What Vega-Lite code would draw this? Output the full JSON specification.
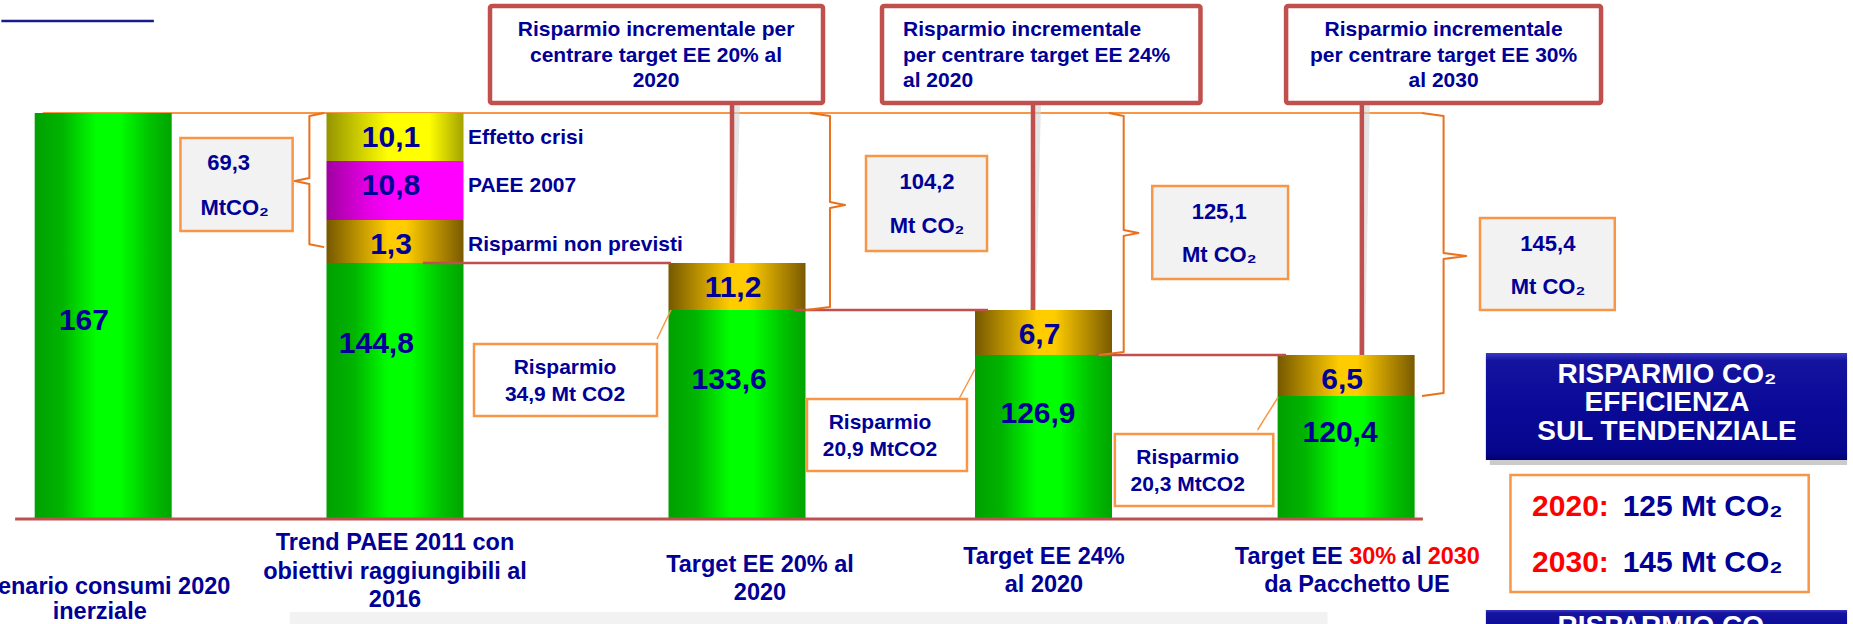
{
  "$schema": "https://vega.github.io/schema/vega-lite/v6.json",
  "width": 1853,
  "height": 624,
  "padding": 0,
  "autosize": {"type": "none"},
  "background": "white",
  "config": {
    "view": {"stroke": null},
    "text": {"font": "Liberation Sans", "fontWeight": "bold"},
    "locale": {"number": {"decimal": ",", "thousands": ".", "grouping": [3], "currency": ["", " €"]}}
  },
  "datasets": {
    "consumi": [
      {"slot": 1, "scenario": "Scenario consumi 2020 inerziale", "component": "Consumo", "kind": "base", "level": 1, "amount": 167},
      {"slot": 2, "scenario": "Trend PAEE 2011", "component": "Consumo", "kind": "base", "level": 1, "amount": 144.8},
      {"slot": 2, "scenario": "Trend PAEE 2011", "component": "Risparmi non previsti", "kind": "saving", "level": 2, "amount": 1.3},
      {"slot": 2, "scenario": "Trend PAEE 2011", "component": "PAEE 2007", "kind": "plan", "level": 3, "amount": 10.8},
      {"slot": 2, "scenario": "Trend PAEE 2011", "component": "Effetto crisi", "kind": "crisis", "level": 4, "amount": 10.1},
      {"slot": 3, "scenario": "Target EE 20% al 2020", "component": "Consumo", "kind": "base", "level": 1, "amount": 133.6},
      {"slot": 3, "scenario": "Target EE 20% al 2020", "component": "Risparmio incrementale", "kind": "saving", "level": 2, "amount": 11.2},
      {"slot": 4, "scenario": "Target EE 24% al 2020", "component": "Consumo", "kind": "base", "level": 1, "amount": 126.9},
      {"slot": 4, "scenario": "Target EE 24% al 2020", "component": "Risparmio incrementale", "kind": "saving", "level": 2, "amount": 6.7},
      {"slot": 5, "scenario": "Target EE 30% al 2030", "component": "Consumo", "kind": "base", "level": 1, "amount": 120.4},
      {"slot": 5, "scenario": "Target EE 30% al 2030", "component": "Risparmio incrementale", "kind": "saving", "level": 2, "amount": 6.5}
    ],
    "totali": [
      {"x": 0.934, "y": 131.96, "amount": 167},
      {"x": 1.936, "y": 128.54, "amount": 144.8},
      {"x": 2.977, "y": 122.94, "amount": 133.6},
      {"x": 3.982, "y": 102.78, "amount": 126.9},
      {"x": 4.98, "y": 84.18, "amount": 120.4}
    ],
    "riquadri": [
      {"role": "band", "x": 1.6391, "x2": 4.9382, "y": -91.03, "y2": -130},
      {"role": "shadow", "x": 5.4748, "x2": 6.6553, "y": 126.42, "y2": 52.86},
      {"role": "panel", "x": 5.4618, "x2": 6.6553, "y": 127.2, "y2": 57.75},
      {"role": "panel", "x": 5.4618, "x2": 6.6553, "y": -89.08, "y2": -130},
      {"role": "callout", "x": 2.2778, "x2": 3.2806, "y": 188.78, "y2": 169.04},
      {"role": "callout", "x": 3.4731, "x2": 4.5187, "y": 188.78, "y2": 169.04},
      {"role": "callout", "x": 4.8016, "x2": 5.8423, "y": 188.78, "y2": 169.04},
      {"role": "total", "x": 1.2648, "x2": 1.6492, "y": 161.74, "y2": 145.767},
      {"role": "total", "x": 3.4209, "x2": 3.8157, "y": 157.95, "y2": 145.16},
      {"role": "total", "x": 4.3593, "x2": 4.8081, "y": 152.32, "y2": 140.99},
      {"role": "total", "x": 5.4423, "x2": 5.8878, "y": 146.47, "y2": 133.6},
      {"role": "saving", "x": 2.231, "x2": 2.7661, "y": 128.54, "y2": 100.82},
      {"role": "saving", "x": 3.2284, "x2": 3.7504, "y": 117.46, "y2": 46.99},
      {"role": "saving", "x": 4.2358, "x2": 4.7593, "y": 83.2, "y2": 12.73},
      {"role": "summary", "x": 5.5431, "x2": 6.5285, "y": 43.07, "y2": -71.46}
    ],
    "tratti": [
      {"role": "mark", "x": 0.651, "x2": 1.1737, "y": 185.73, "y2": 185.73},
      {"role": "guide", "x": 0.7926, "x2": 5.2504, "y": 167, "y2": 167},
      {"role": "base", "x": 0.6981, "x2": 5.2537, "y": 0, "y2": 0},
      {"role": "step", "x": 2.0819, "x2": 2.807, "y": 144.8, "y2": 144.8},
      {"role": "step", "x": 3.186, "x2": 3.819, "y": 133.6, "y2": 133.6},
      {"role": "step", "x": 4.174, "x2": 4.8016, "y": 126.9, "y2": 126.9},
      {"role": "stem", "x": 2.9854, "x2": 2.9854, "y": 168.83, "y2": 144.8},
      {"role": "stem", "x": 3.9657, "x2": 3.9657, "y": 168.83, "y2": 133.6},
      {"role": "stem", "x": 5.052, "x2": 5.052, "y": 168.83, "y2": 126.9},
      {"role": "leader", "x": 2.7661, "x2": 2.807, "y": 129.28, "y2": 133.6},
      {"role": "leader", "x": 3.7243, "x2": 3.7765, "y": 117.46, "y2": 124.68},
      {"role": "leader", "x": 4.7073, "x2": 4.7756, "y": 87.12, "y2": 119.42}
    ],
    "graffe": [
      {"brace": "a", "seq": 1, "x": 1.7572, "y": 167},
      {"brace": "a", "seq": 2, "x": 1.7066, "y": 166.37},
      {"brace": "a", "seq": 3, "x": 1.7066, "y": 153.79},
      {"brace": "a", "seq": 4, "x": 1.656, "y": 153.24},
      {"brace": "a", "seq": 5, "x": 1.7066, "y": 152.69},
      {"brace": "a", "seq": 6, "x": 1.7066, "y": 145.37},
      {"brace": "a", "seq": 7, "x": 1.7572, "y": 145.28},
      {"brace": "b", "seq": 1, "x": 3.2382, "y": 167},
      {"brace": "b", "seq": 2, "x": 3.3034, "y": 166.37},
      {"brace": "b", "seq": 3, "x": 3.3034, "y": 149.39},
      {"brace": "b", "seq": 4, "x": 3.3524, "y": 148.85},
      {"brace": "b", "seq": 5, "x": 3.3034, "y": 148.3},
      {"brace": "b", "seq": 6, "x": 3.3034, "y": 134.31},
      {"brace": "b", "seq": 7, "x": 3.2251, "y": 133.6},
      {"brace": "c", "seq": 1, "x": 4.2163, "y": 167},
      {"brace": "c", "seq": 2, "x": 4.265, "y": 166.37},
      {"brace": "c", "seq": 3, "x": 4.265, "y": 145.8},
      {"brace": "c", "seq": 4, "x": 4.3138, "y": 145.71},
      {"brace": "c", "seq": 5, "x": 4.265, "y": 145.62},
      {"brace": "c", "seq": 6, "x": 4.265, "y": 127.35},
      {"brace": "c", "seq": 7, "x": 4.1837, "y": 126.9},
      {"brace": "d", "seq": 1, "x": 5.2504, "y": 167},
      {"brace": "d", "seq": 2, "x": 5.322, "y": 166.37},
      {"brace": "d", "seq": 3, "x": 5.322, "y": 145.1},
      {"brace": "d", "seq": 4, "x": 5.3967, "y": 145.01},
      {"brace": "d", "seq": 5, "x": 5.322, "y": 144.92},
      {"brace": "d", "seq": 6, "x": 5.322, "y": 120.88},
      {"brace": "d", "seq": 7, "x": 5.2504, "y": 120.4}
    ],
    "testi": [
      {"role": "callout_c", "x": 2.7632, "y": 183.89, "text": ["Risparmio incrementale per", "centrare target  EE 20% al", "2020"]},
      {"role": "callout_c", "x": 5.322, "y": 183.89, "text": ["Risparmio incrementale", "per centrare target EE 30%", "al 2030"]},
      {"role": "callout_l", "x": 3.5416, "y": 183.89, "text": ["Risparmio incrementale", "per centrare target EE 24%", "al 2020"]},
      {"role": "total", "x": 1.43, "y": 156.53, "text": "69,3"},
      {"role": "total", "x": 1.4503, "y": 148.3, "text": "MtCO₂"},
      {"role": "total", "x": 3.6199, "y": 153.06, "text": "104,2"},
      {"role": "total", "x": 3.6199, "y": 145.92, "text": "Mt CO₂"},
      {"role": "total", "x": 4.5805, "y": 147.56, "text": "125,1"},
      {"role": "total", "x": 4.5805, "y": 145.04, "text": "Mt CO₂"},
      {"role": "total", "x": 5.6667, "y": 145.37, "text": "145,4"},
      {"role": "total", "x": 5.6667, "y": 139.08, "text": "Mt CO₂"},
      {"role": "saving", "x": 2.4971, "y": 124.84, "text": ["Risparmio", "34,9 Mt CO2"]},
      {"role": "saving", "x": 3.4666, "y": 93.97, "text": ["Risparmio", "20,9 MtCO2"]},
      {"role": "saving", "x": 4.4764, "y": 59.71, "text": ["Risparmio", "20,3 MtCO2"]},
      {"role": "caption", "tone": "normal", "x": 0.9882, "y": -66.56, "text": "Scenario consumi 2020"},
      {"role": "caption", "tone": "normal", "x": 0.9882, "y": -91.03, "text": "inerziale"},
      {"role": "caption", "tone": "normal", "x": 2, "y": -23.49, "text": "Trend PAEE 2011 con"},
      {"role": "caption", "tone": "normal", "x": 2, "y": -51.88, "text": "obiettivi raggiungibili al"},
      {"role": "caption", "tone": "normal", "x": 2, "y": -79.29, "text": "2016"},
      {"role": "caption", "tone": "normal", "x": 3.075, "y": -45.03, "text": "Target EE 20% al"},
      {"role": "caption", "tone": "normal", "x": 3.075, "y": -72.43, "text": "2020"},
      {"role": "caption", "tone": "normal", "x": 4.0016, "y": -37.2, "text": "Target EE 24%"},
      {"role": "caption", "tone": "normal", "x": 4.0016, "y": -64.6, "text": "al 2020"},
      {"role": "caption", "tone": "normal", "x": 5.0358, "y": -64.6, "text": "da Pacchetto UE"},
      {"role": "caption_l", "tone": "normal", "x": 4.6322, "y": -37.2, "text": "Target EE"},
      {"role": "caption_l", "tone": "highlight", "x": 5.0101, "y": -37.2, "text": "30%"},
      {"role": "caption_l", "tone": "normal", "x": 5.1841, "y": -37.2, "text": "al"},
      {"role": "caption_l", "tone": "highlight", "x": 5.2693, "y": -37.2, "text": "2030"},
      {"role": "panel", "x": 6.0602, "y": 123.73, "text": ["RISPARMIO CO₂", "EFFICIENZA", "SUL TENDENZIALE"]},
      {"role": "panel", "x": 6.0602, "y": -106, "text": "RISPARMIO CO₂"},
      {"role": "summary", "tone": "highlight", "x": 5.6146, "y": 11.75, "text": "2020:"},
      {"role": "summary", "tone": "normal", "x": 5.9138, "y": 11.75, "text": "125 Mt CO₂"},
      {"role": "summary", "tone": "highlight", "x": 5.6146, "y": -43.07, "text": "2030:"},
      {"role": "summary", "tone": "normal", "x": 5.9138, "y": -43.07, "text": "145 Mt CO₂"}
    ]
  },
  "encoding": {
    "x": {"field": "x", "type": "quantitative", "axis": null, "scale": {"domain": [1, 2, 3, 4, 5], "range": [98.5, 395, 737, 1043.5, 1351], "zero": false, "nice": false}},
    "y": {"field": "y", "type": "quantitative", "axis": null, "scale": {"domain": [-103, 0, 120.4, 126.9, 133.6, 144.8, 146.1, 156.9, 167, 190], "range": [624.2, 519, 396, 355, 310, 263, 220, 161, 113, 0], "zero": false, "nice": false}}
  },
  "layer": [
    {
      "data": {"name": "riquadri"},
      "transform": [{"filter": "datum.role === 'band'"}],
      "mark": {"type": "rect", "fill": "#f2f2f2"},
      "encoding": {"x2": {"field": "x2"}, "y2": {"field": "y2"}}
    },
    {
      "data": {"name": "riquadri"},
      "transform": [{"filter": "datum.role === 'shadow'"}],
      "mark": {"type": "rect", "fill": "#8c8c8c", "opacity": 0.45},
      "encoding": {"x2": {"field": "x2"}, "y2": {"field": "y2"}}
    },
    {
      "data": {"name": "riquadri"},
      "transform": [{"filter": "datum.role === 'panel'"}],
      "mark": {"type": "rect", "fill": {"gradient": "linear", "x1": 0, "y1": 0, "x2": 0, "y2": 1, "stops": [
        {"offset": 0, "color": "#3a3ac8"}, {"offset": 0.07, "color": "#14149e"}, {"offset": 0.5, "color": "#0a0a98"}, {"offset": 0.93, "color": "#06068c"}, {"offset": 1, "color": "#000070"}]}},
      "encoding": {"x2": {"field": "x2"}, "y2": {"field": "y2"}}
    },
    {
      "data": {"name": "tratti"},
      "transform": [{"filter": "datum.role === 'guide'"}],
      "mark": {"type": "rule", "color": "#f79646", "strokeWidth": 2},
      "encoding": {"x2": {"field": "x2"}, "y2": {"field": "y2"}}
    },
    {
      "data": {"name": "tratti"},
      "transform": [{"filter": "datum.role === 'mark'"}],
      "mark": {"type": "rule", "color": "#1a1a8a", "strokeWidth": 2.5},
      "encoding": {"x2": {"field": "x2"}, "y2": {"field": "y2"}}
    },
    {
      "data": {"name": "consumi"},
      "transform": [{"stack": "amount", "groupby": ["slot"], "sort": [{"field": "level", "order": "ascending"}], "as": ["v0", "v1"]}],
      "layer": [
        {
          "transform": [{"filter": "datum.kind === 'base'"}],
          "mark": {"type": "bar", "width": 137, "fill": {"gradient": "linear", "x1": 0, "y1": 0, "x2": 1, "y2": 0, "stops": [
            {"offset": 0, "color": "#00a000"}, {"offset": 0.2, "color": "#00b400"}, {"offset": 0.45, "color": "#00ff00"}, {"offset": 0.62, "color": "#00ff00"}, {"offset": 0.85, "color": "#00c000"}, {"offset": 1, "color": "#00a400"}]}},
          "encoding": {
            "x": {"field": "slot", "type": "quantitative", "axis": null, "scale": {"domain": [1, 2, 3, 4, 5], "range": [98.5, 395, 737, 1043.5, 1351], "zero": false, "nice": false}},
            "y": {"field": "v0", "type": "quantitative", "axis": null, "scale": {"domain": [-103, 0, 120.4, 126.9, 133.6, 144.8, 146.1, 156.9, 167, 190], "range": [624.2, 519, 396, 355, 310, 263, 220, 161, 113, 0], "zero": false, "nice": false}},
            "y2": {"field": "v1"}
          }
        },
        {
          "transform": [{"filter": "datum.kind === 'saving'"}],
          "mark": {"type": "bar", "width": 137, "fill": {"gradient": "linear", "x1": 0, "y1": 0, "x2": 1, "y2": 0, "stops": [
            {"offset": 0, "color": "#765800"}, {"offset": 0.45, "color": "#ffcc00"}, {"offset": 0.58, "color": "#ffcc00"}, {"offset": 1, "color": "#7a5a00"}]}},
          "encoding": {
            "x": {"field": "slot", "type": "quantitative", "axis": null, "scale": {"domain": [1, 2, 3, 4, 5], "range": [98.5, 395, 737, 1043.5, 1351], "zero": false, "nice": false}},
            "y": {"field": "v0", "type": "quantitative", "axis": null, "scale": {"domain": [-103, 0, 120.4, 126.9, 133.6, 144.8, 146.1, 156.9, 167, 190], "range": [624.2, 519, 396, 355, 310, 263, 220, 161, 113, 0], "zero": false, "nice": false}},
            "y2": {"field": "v1"}
          }
        },
        {
          "transform": [{"filter": "datum.kind === 'plan'"}],
          "mark": {"type": "bar", "width": 137, "fill": {"gradient": "linear", "x1": 0, "y1": 0, "x2": 1, "y2": 0, "stops": [
            {"offset": 0, "color": "#a000a0"}, {"offset": 0.3, "color": "#e400e4"}, {"offset": 0.5, "color": "#ff00ff"}, {"offset": 1, "color": "#ff00ff"}]}},
          "encoding": {
            "x": {"field": "slot", "type": "quantitative", "axis": null, "scale": {"domain": [1, 2, 3, 4, 5], "range": [98.5, 395, 737, 1043.5, 1351], "zero": false, "nice": false}},
            "y": {"field": "v0", "type": "quantitative", "axis": null, "scale": {"domain": [-103, 0, 120.4, 126.9, 133.6, 144.8, 146.1, 156.9, 167, 190], "range": [624.2, 519, 396, 355, 310, 263, 220, 161, 113, 0], "zero": false, "nice": false}},
            "y2": {"field": "v1"}
          }
        },
        {
          "transform": [{"filter": "datum.kind === 'crisis'"}],
          "mark": {"type": "bar", "width": 137, "fill": {"gradient": "linear", "x1": 0, "y1": 0, "x2": 1, "y2": 0, "stops": [
            {"offset": 0, "color": "#949400"}, {"offset": 0.45, "color": "#ffff00"}, {"offset": 0.75, "color": "#ffff00"}, {"offset": 1, "color": "#a3a300"}]}},
          "encoding": {
            "x": {"field": "slot", "type": "quantitative", "axis": null, "scale": {"domain": [1, 2, 3, 4, 5], "range": [98.5, 395, 737, 1043.5, 1351], "zero": false, "nice": false}},
            "y": {"field": "v0", "type": "quantitative", "axis": null, "scale": {"domain": [-103, 0, 120.4, 126.9, 133.6, 144.8, 146.1, 156.9, 167, 190], "range": [624.2, 519, 396, 355, 310, 263, 220, 161, 113, 0], "zero": false, "nice": false}},
            "y2": {"field": "v1"}
          }
        },
        {
          "transform": [{"filter": "datum.kind !== 'base'"}],
          "mark": {"type": "text", "fontSize": 30, "color": "#000096", "align": "center", "baseline": "middle", "dx": -4, "dy": 25},
          "encoding": {
            "x": {"field": "slot", "type": "quantitative", "axis": null, "scale": {"domain": [1, 2, 3, 4, 5], "range": [98.5, 395, 737, 1043.5, 1351], "zero": false, "nice": false}},
            "y": {"field": "v1", "type": "quantitative", "axis": null, "scale": {"domain": [-103, 0, 120.4, 126.9, 133.6, 144.8, 146.1, 156.9, 167, 190], "range": [624.2, 519, 396, 355, 310, 263, 220, 161, 113, 0], "zero": false, "nice": false}},
            "text": {"field": "amount", "type": "quantitative", "format": ".1~f"}
          }
        },
        {
          "transform": [{"filter": "datum.slot === 2 && datum.kind !== 'base'"}],
          "mark": {"type": "text", "fontSize": 21, "color": "#000096", "align": "left", "baseline": "middle", "dx": 73, "dy": 25},
          "encoding": {
            "x": {"field": "slot", "type": "quantitative", "axis": null, "scale": {"domain": [1, 2, 3, 4, 5], "range": [98.5, 395, 737, 1043.5, 1351], "zero": false, "nice": false}},
            "y": {"field": "v1", "type": "quantitative", "axis": null, "scale": {"domain": [-103, 0, 120.4, 126.9, 133.6, 144.8, 146.1, 156.9, 167, 190], "range": [624.2, 519, 396, 355, 310, 263, 220, 161, 113, 0], "zero": false, "nice": false}},
            "text": {"field": "component", "type": "nominal"}
          }
        }
      ]
    },
    {
      "data": {"name": "tratti"},
      "transform": [{"filter": "datum.role === 'step'"}],
      "mark": {"type": "rule", "color": "#c0504d", "strokeWidth": 2.5},
      "encoding": {"x2": {"field": "x2"}, "y2": {"field": "y2"}}
    },
    {
      "data": {"name": "tratti"},
      "transform": [{"filter": "datum.role === 'base'"}],
      "mark": {"type": "rule", "color": "#c0504d", "strokeWidth": 3},
      "encoding": {"x2": {"field": "x2"}, "y2": {"field": "y2"}}
    },
    {
      "data": {"name": "tratti"},
      "transform": [{"filter": "datum.role === 'stem'"}],
      "mark": {"type": "rule", "color": "#d4d4d4", "strokeWidth": 6, "opacity": 0.6, "xOffset": 5},
      "encoding": {"x2": {"field": "x2"}, "y2": {"field": "y2"}}
    },
    {
      "data": {"name": "tratti"},
      "transform": [{"filter": "datum.role === 'stem'"}],
      "mark": {"type": "rule", "color": "#c0504d", "strokeWidth": 4.5},
      "encoding": {"x2": {"field": "x2"}, "y2": {"field": "y2"}}
    },
    {
      "data": {"name": "graffe"},
      "mark": {"type": "line", "color": "#e9711c", "strokeWidth": 2, "strokeJoin": "round", "interpolate": "linear"},
      "encoding": {"detail": {"field": "brace", "type": "nominal"}, "order": {"field": "seq", "type": "quantitative"}}
    },
    {
      "data": {"name": "tratti"},
      "transform": [{"filter": "datum.role === 'leader'"}],
      "mark": {"type": "rule", "color": "#f79646", "strokeWidth": 1.5},
      "encoding": {"x2": {"field": "x2"}, "y2": {"field": "y2"}}
    },
    {
      "data": {"name": "riquadri"},
      "transform": [{"filter": "datum.role === 'callout'"}],
      "mark": {"type": "rect", "fill": "white", "stroke": "#c0504d", "strokeWidth": 4.5, "cornerRadius": 2},
      "encoding": {"x2": {"field": "x2"}, "y2": {"field": "y2"}}
    },
    {
      "data": {"name": "riquadri"},
      "transform": [{"filter": "datum.role === 'total'"}],
      "mark": {"type": "rect", "fill": "#f2f2f2", "stroke": "#f79646", "strokeWidth": 2.5},
      "encoding": {"x2": {"field": "x2"}, "y2": {"field": "y2"}}
    },
    {
      "data": {"name": "riquadri"},
      "transform": [{"filter": "datum.role === 'saving' || datum.role === 'summary'"}],
      "mark": {"type": "rect", "fill": "white", "stroke": "#f79646", "strokeWidth": 2.5},
      "encoding": {"x2": {"field": "x2"}, "y2": {"field": "y2"}}
    },
    {
      "data": {"name": "totali"},
      "mark": {"type": "text", "fontSize": 30, "color": "#000096", "align": "center", "baseline": "middle"},
      "encoding": {"text": {"field": "amount", "type": "quantitative", "format": ".1~f"}}
    },
    {
      "data": {"name": "testi"},
      "transform": [{"filter": "datum.role === 'callout_c'"}],
      "mark": {"type": "text", "fontSize": 21, "lineHeight": 25.5, "color": "#000096", "align": "center", "baseline": "middle"},
      "encoding": {"text": {"field": "text", "type": "nominal"}}
    },
    {
      "data": {"name": "testi"},
      "transform": [{"filter": "datum.role === 'callout_l'"}],
      "mark": {"type": "text", "fontSize": 21, "lineHeight": 25.5, "color": "#000096", "align": "left", "baseline": "middle"},
      "encoding": {"text": {"field": "text", "type": "nominal"}}
    },
    {
      "data": {"name": "testi"},
      "transform": [{"filter": "datum.role === 'total'"}],
      "mark": {"type": "text", "fontSize": 22, "color": "#000096", "align": "center", "baseline": "middle"},
      "encoding": {"text": {"field": "text", "type": "nominal"}}
    },
    {
      "data": {"name": "testi"},
      "transform": [{"filter": "datum.role === 'saving'"}],
      "mark": {"type": "text", "fontSize": 21, "lineHeight": 27, "color": "#000096", "align": "center", "baseline": "middle"},
      "encoding": {"text": {"field": "text", "type": "nominal"}}
    },
    {
      "data": {"name": "testi"},
      "transform": [{"filter": "datum.role === 'caption'"}],
      "mark": {"type": "text", "fontSize": 23.5, "align": "center", "baseline": "middle"},
      "encoding": {
        "text": {"field": "text", "type": "nominal"},
        "color": {"field": "tone", "type": "nominal", "legend": null, "scale": {"domain": ["normal", "highlight"], "range": ["#000096", "#ff0000"]}}
      }
    },
    {
      "data": {"name": "testi"},
      "transform": [{"filter": "datum.role === 'caption_l'"}],
      "mark": {"type": "text", "fontSize": 23.5, "align": "left", "baseline": "middle"},
      "encoding": {
        "text": {"field": "text", "type": "nominal"},
        "color": {"field": "tone", "type": "nominal", "legend": null, "scale": {"domain": ["normal", "highlight"], "range": ["#000096", "#ff0000"]}}
      }
    },
    {
      "data": {"name": "testi"},
      "transform": [{"filter": "datum.role === 'panel'"}],
      "mark": {"type": "text", "fontSize": 28, "lineHeight": 28.5, "color": "white", "align": "center", "baseline": "middle"},
      "encoding": {"text": {"field": "text", "type": "nominal"}}
    },
    {
      "data": {"name": "testi"},
      "transform": [{"filter": "datum.role === 'summary'"}],
      "mark": {"type": "text", "fontSize": 30, "align": "left", "baseline": "middle"},
      "encoding": {
        "text": {"field": "text", "type": "nominal"},
        "color": {"field": "tone", "type": "nominal", "legend": null, "scale": {"domain": ["normal", "highlight"], "range": ["#000096", "#ff0000"]}}
      }
    }
  ]
}
